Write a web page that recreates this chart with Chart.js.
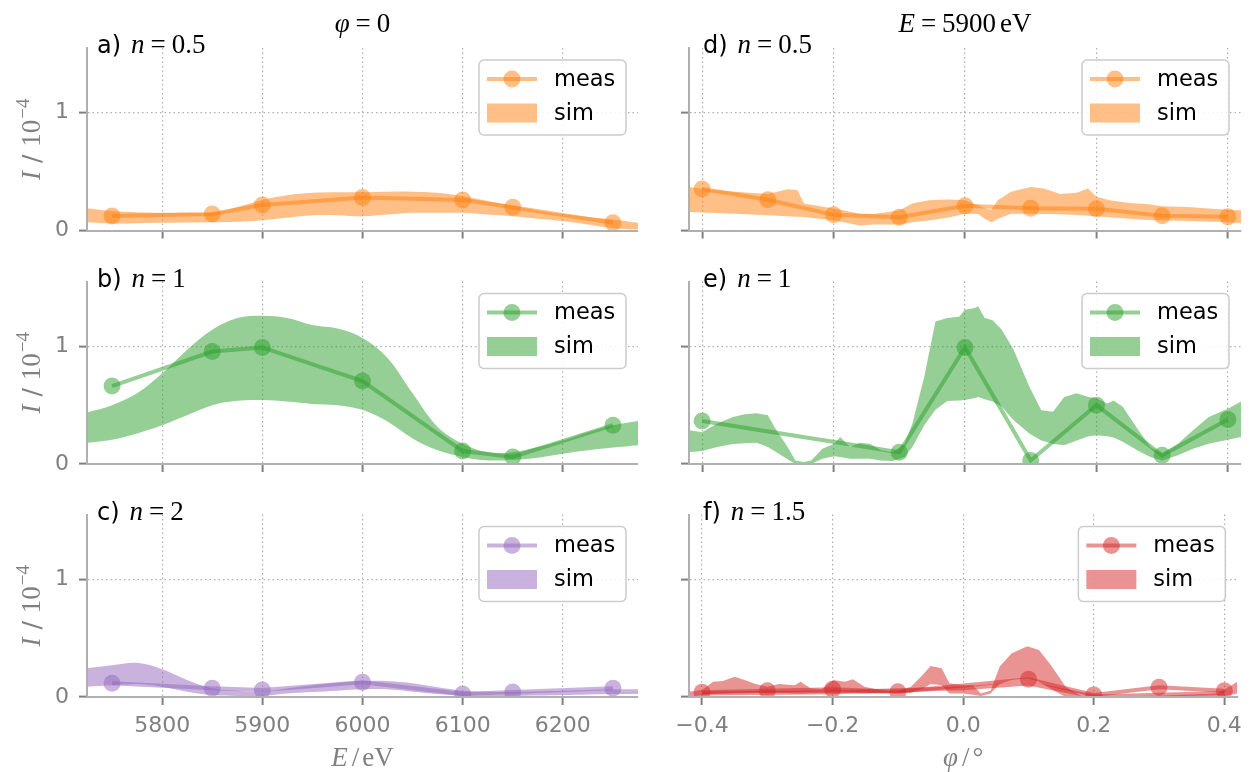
<!DOCTYPE html>
<html>
<head>
<meta charset="utf-8">
<script src="https://cdn.jsdelivr.net/npm/chart.js@4.4.1/dist/chart.umd.min.js"></script>
<style>
  body { margin: 0; background: #fff; }
  #wrap { position: relative; width: 1250px; height: 772px; }
  #wrap canvas { position: absolute; left: 0; top: 0; }
</style>
</head>
<body>
<div id="wrap"></div>
<script>
// ---- axis ticks ----
const eTicks = [5800, 5900, 6000, 6100, 6200];
const eTickLabels = ['5800', '5900', '6000', '6100', '6200'];
const phiTicks = [-0.4, -0.2, 0, 0.2, 0.4];
const phiTickLabels = ['\u22120.4', '\u22120.2', '0.0', '0.2', '0.4'];
const yTicks = [0, 1];
const yTickLabels = ['0', '1'];

// ---- left column: phi = 0, energy scan ----
const measE = [5750, 5850, 5900, 6000, 6100, 6150, 6250];
const measA = [0.123, 0.14, 0.217, 0.28, 0.26, 0.197, 0.066];
const measB = [0.662, 0.955, 0.99, 0.705, 0.11, 0.06, 0.33];
const measC = [0.116, 0.074, 0.06, 0.125, 0.026, 0.043, 0.074];

const simE = [5725, 5750, 5775, 5800, 5825, 5850, 5875, 5900, 5925, 5950, 5975, 6000,
              6025, 6050, 6075, 6100, 6125, 6150, 6175, 6200, 6225, 6250, 6275];
const simALo = [0.07, 0.06, 0.062, 0.065, 0.068, 0.07, 0.075, 0.087, 0.11, 0.13, 0.13, 0.12,
                0.135, 0.15, 0.15, 0.15, 0.135, 0.12, 0.1, 0.08, 0.05, 0.02, 0.01];
const simAHi = [0.19, 0.165, 0.155, 0.15, 0.15, 0.15, 0.2, 0.26, 0.3, 0.32, 0.325, 0.325,
                0.33, 0.33, 0.32, 0.29, 0.25, 0.21, 0.17, 0.14, 0.115, 0.094, 0.066];
const simBLo = [0.18, 0.207, 0.26, 0.33, 0.415, 0.5, 0.537, 0.543, 0.53, 0.51, 0.5, 0.46,
                0.36, 0.216, 0.116, 0.06, 0.03, 0.037, 0.054, 0.088, 0.116, 0.14, 0.16];
const simBHi = [0.437, 0.5, 0.6, 0.77, 0.97, 1.14, 1.24, 1.26, 1.24, 1.18, 1.15, 1.07,
                0.9, 0.6, 0.315, 0.173, 0.1, 0.1, 0.145, 0.2, 0.27, 0.33, 0.366];
const simCLo = [0.088, 0.1, 0.11, 0.088, 0.045, 0.017, 0.009, 0.009, 0.03, 0.043, 0.054, 0.065,
                0.065, 0.045, 0.026, 0.009, 0.005, 0.009, 0.012, 0.017, 0.022, 0.026, 0.026];
const simCHi = [0.244, 0.27, 0.29, 0.236, 0.145, 0.074, 0.054, 0.045, 0.074, 0.1, 0.122, 0.136,
                0.136, 0.116, 0.082, 0.054, 0.045, 0.043, 0.048, 0.054, 0.06, 0.065, 0.065];

// ---- right column: E = 5900 eV, angle scan ----
const measPhiD = [-0.4, -0.3, -0.2, -0.1, 0, 0.1, 0.2, 0.3, 0.4];
const measD = [0.352, 0.261, 0.133, 0.112, 0.211, 0.19, 0.185, 0.126, 0.116];
const measPhiE = [-0.4, -0.1, 0, 0.1, 0.2, 0.3, 0.4];
const measEe = [0.366, 0.1, 0.99, 0.03, 0.5, 0.074, 0.378];
const measPhiF = [-0.4, -0.3, -0.2, -0.1, 0.1, 0.2, 0.3, 0.4];
const measF = [0.04, 0.054, 0.065, 0.045, 0.15, 0.017, 0.082, 0.054];
const measPhiF2 = [-0.4, -0.2, 0, 0.1, 0.2, 0.4];
const measF2 = [0.03, 0.04, 0.075, 0.115, 0.005, 0.035];

const simPhiD = [-0.42, -0.39, -0.35, -0.3, -0.27, -0.255, -0.245, -0.2, -0.16, -0.14, -0.1, -0.08,
                 -0.055, -0.025, 0, 0.02, 0.03, 0.04, 0.05, 0.07, 0.1, 0.12, 0.145, 0.17, 0.187,
                 0.2, 0.22, 0.25, 0.28, 0.3, 0.34, 0.37, 0.4, 0.42];
const simDLo = [0.157, 0.15, 0.143, 0.129, 0.12, 0.117, 0.114, 0.086, 0.043, 0.051, 0.051, 0.071,
                0.085, 0.11, 0.143, 0.14, 0.1, 0.071, 0.1, 0.143, 0.143, 0.14, 0.137, 0.132, 0.125,
                0.12, 0.112, 0.1, 0.09, 0.086, 0.08, 0.077, 0.071, 0.063];
const simDHi = [0.37, 0.35, 0.33, 0.31, 0.35, 0.345, 0.23, 0.186, 0.143, 0.14, 0.17, 0.23,
                0.257, 0.263, 0.257, 0.214, 0.19, 0.177, 0.257, 0.33, 0.37, 0.357, 0.31, 0.32, 0.357,
                0.286, 0.257, 0.234, 0.223, 0.206, 0.2, 0.186, 0.177, 0.17];

const simPhiE = [-0.42, -0.4, -0.377, -0.353, -0.335, -0.317, -0.3, -0.29, -0.27, -0.258,
                 -0.246, -0.234, -0.217, -0.199, -0.19, -0.175, -0.16, -0.145, -0.128, -0.11,
                 -0.092, -0.08, -0.062, -0.045, -0.027, -0.009, 0, 0.015, 0.02, 0.03,
                 0.042, 0.056, 0.074, 0.098, 0.116, 0.134, 0.151, 0.17, 0.188, 0.2,
                 0.217, 0.226, 0.24, 0.264, 0.282, 0.3, 0.324, 0.347, 0.371, 0.4, 0.42];
const simELo = [0.1, 0.11, 0.145, 0.17, 0.176, 0.18, 0.145, 0.11, 0.04, 0.0,
                0.0, 0.0, 0.045, 0.065, 0.06, 0.045, 0.045, 0.045, 0.03, 0.025,
                0.06, 0.145, 0.33, 0.46, 0.535, 0.54, 0.543, 0.56, 0.57, 0.55,
                0.53, 0.486, 0.372, 0.26, 0.2, 0.173, 0.16, 0.2, 0.235, 0.244,
                0.235, 0.225, 0.19, 0.11, 0.06, 0.03, 0.074, 0.13, 0.173, 0.207, 0.23];
const simEHi = [0.287, 0.27, 0.344, 0.4, 0.423, 0.43, 0.415, 0.315, 0.145, 0.03,
                0.017, 0.03, 0.13, 0.173, 0.23, 0.145, 0.18, 0.173, 0.116, 0.1,
                0.173, 0.344, 0.74, 1.21, 1.24, 1.25, 1.31, 1.325, 1.34, 1.24,
                1.22, 1.14, 0.97, 0.656, 0.457, 0.443, 0.57, 0.6, 0.57, 0.557,
                0.514, 0.54, 0.486, 0.287, 0.145, 0.088, 0.173, 0.287, 0.4, 0.47, 0.53];

const simPhiF = [-0.42, -0.4, -0.383, -0.368, -0.35, -0.335, -0.318, -0.3, -0.282, -0.258,
                 -0.249, -0.234, -0.217, -0.199, -0.181, -0.169, -0.151, -0.128, -0.104, -0.08,
                 -0.062, -0.05, -0.033, -0.021, 0, 0.015, 0.027, 0.042, 0.056, 0.074,
                 0.098, 0.116, 0.134, 0.157, 0.181, 0.2, 0.3, 0.39, 0.42];
const simFLo = [0.0, 0.017, 0.03, 0.032, 0.035, 0.036, 0.037, 0.037, 0.035, 0.03,
                0.03, 0.032, 0.035, 0.037, 0.035, 0.033, 0.03, 0.03, 0.033, 0.037,
                0.07, 0.11, 0.1, 0.03, 0.03, 0.02, 0.009, 0.03, 0.11, 0.145,
                0.16, 0.13, 0.07, 0.0, 0.0, 0.0, 0.0, 0.0, 0.03];
const simFHi = [0.045, 0.06, 0.13, 0.136, 0.173, 0.145, 0.11, 0.088, 0.11, 0.1,
                0.13, 0.074, 0.065, 0.145, 0.13, 0.15, 0.088, 0.06, 0.045, 0.088,
                0.187, 0.264, 0.244, 0.116, 0.1, 0.1, 0.03, 0.054, 0.26, 0.37,
                0.43, 0.4, 0.273, 0.088, 0.009, 0.005, 0.01, 0.03, 0.13];

// ---- look ----
const TAB = { orange: [255, 127, 14], green: [44, 160, 44], purple: [148, 103, 189], red: [214, 39, 40] };
const rgba = (c, a) => `rgba(${c[0]},${c[1]},${c[2]},${a})`;
const SERIF = '"Liberation Serif", "DejaVu Serif", serif';
const SANS = '"DejaVu Sans", sans-serif';
const GRAY = '#808080';
const SPINE = '#b0b0b0';
const GRID = '#b0b0b0';

const colX = [[87, 638], [689, 1241]];
const rowY = [[48, 230.5], [281.5, 464], [514.5, 697]];
const AXBAND = 40;

const panels = [
  { col: 0, row: 0, tag: 'a)', n: '0.5', color: TAB.orange, mx: measE, my: measA, sx: simE, lo: simALo, hi: simAHi },
  { col: 0, row: 1, tag: 'b)', n: '1', color: TAB.green, mx: measE, my: measB, sx: simE, lo: simBLo, hi: simBHi },
  { col: 0, row: 2, tag: 'c)', n: '2', color: TAB.purple, mx: measE, my: measC, sx: simE, lo: simCLo, hi: simCHi },
  { col: 1, row: 0, tag: 'd)', n: '0.5', color: TAB.orange, mx: measPhiD, my: measD, sx: simPhiD, lo: simDLo, hi: simDHi },
  { col: 1, row: 1, tag: 'e)', n: '1', color: TAB.green, mx: measPhiE, my: measEe, sx: simPhiE, lo: simELo, hi: simEHi },
  { col: 1, row: 2, tag: 'f)', n: '1.5', color: TAB.red, mx: measPhiF, my: measF, sx: simPhiF, lo: simFLo, hi: simFHi,
    mx2: measPhiF2, my2: measF2 }
];

const pts = (xs, ys) => xs.map((x, i) => ({ x: x, y: ys[i] }));

function drawRuns(ctx, parts, x, y, align) {
  let total = 0;
  parts.forEach(p => { ctx.font = p.f; p.w = ctx.measureText(p.t).width; total += p.w + (p.gap || 0); });
  let cx = align === 'center' ? x - total / 2 : x;
  parts.forEach(p => { ctx.font = p.f; ctx.fillText(p.t, cx, y + (p.dy || 0)); cx += p.w + (p.gap || 0); });
}

function drawLegend(chart, c) {
  const a = chart.chartArea, ctx = chart.ctx;
  const w = 147, h = 75, x = a.right - 12 - w, y = a.top + 12;
  const ds = chart.data.datasets;
  ctx.save();
  ctx.beginPath();
  ctx.roundRect(x, y, w, h, 5);
  ctx.fillStyle = 'rgba(255,255,255,0.85)';
  ctx.fill();
  ctx.strokeStyle = '#cccccc';
  ctx.lineWidth = 1.5;
  ctx.stroke();
  const hx = x + 8, hw = 50, r1 = y + 19, r2 = y + 53;
  ctx.strokeStyle = rgba(c, 0.5);
  ctx.lineWidth = 4;
  ctx.beginPath(); ctx.moveTo(hx, r1); ctx.lineTo(hx + hw, r1); ctx.stroke();
  ctx.fillStyle = rgba(c, 0.5);
  ctx.beginPath(); ctx.arc(hx + hw / 2, r1, 8.5, 0, Math.PI * 2); ctx.fill();
  ctx.fillRect(hx, r2 - 9.5, hw, 19);
  ctx.fillStyle = '#000';
  ctx.font = '22.5px ' + SANS;
  ctx.textBaseline = 'middle';
  ctx.fillText(ds[0].label, x + 75, r1 + 1);
  ctx.fillText(ds[ds.length - 1].label, x + 75, r2 + 1);
  ctx.restore();
}

function drawTexts(chart, p) {
  const a = chart.chartArea, ctx = chart.ctx;
  const big = '27px ' + SERIF, ital = 'italic 27px ' + SERIF;
  ctx.save();
  ctx.textBaseline = 'alphabetic';
  // panel tag
  ctx.fillStyle = '#000';
  drawRuns(ctx, [
    { t: p.tag, f: '24px ' + SANS, gap: 10 },
    { t: 'n', f: ital, gap: 6 },
    { t: '=', f: big, gap: 6 },
    { t: p.n, f: big }
  ], p.col === 0 ? 97 : 703, a.top + 5, 'left');
  // column titles
  if (p.row === 0) {
    const cx = (a.left + a.right) / 2;
    if (p.col === 0) {
      drawRuns(ctx, [{ t: '\u03c6', f: ital, gap: 6 }, { t: '=', f: big, gap: 6 }, { t: '0', f: big }], cx, 32, 'center');
    } else {
      drawRuns(ctx, [{ t: 'E', f: ital, gap: 6 }, { t: '=', f: big, gap: 6 }, { t: '5900', f: big, gap: 4 }, { t: 'eV', f: big }], cx, 32, 'center');
    }
  }
  ctx.fillStyle = GRAY;
  // y title
  if (p.col === 0) {
    ctx.save();
    ctx.translate(40, (a.top + a.bottom) / 2);
    ctx.rotate(-Math.PI / 2);
    drawRuns(ctx, [
      { t: 'I', f: ital },
      { t: ' / ', f: '25px ' + SANS },
      { t: '10', f: big, gap: 1 },
      { t: '\u22124', f: '19px ' + SERIF, dy: -11 }
    ], 0, 0, 'center');
    ctx.restore();
  }
  // x title
  if (p.row === 2) {
    const cx = (a.left + a.right) / 2;
    if (p.col === 0) {
      drawRuns(ctx, [{ t: 'E', f: ital, gap: 4 }, { t: '/', f: big, gap: 3 }, { t: 'eV', f: big }], cx, 766, 'center');
    } else {
      drawRuns(ctx, [{ t: '\u03c6', f: ital, gap: 4 }, { t: '/', f: big, gap: 3 }, { t: '\u00b0', f: big }], cx, 766, 'center');
    }
  }
  ctx.restore();
}

const wrap = document.getElementById('wrap');

panels.forEach(p => {
  const cv = document.createElement('canvas');
  cv.width = 1250; cv.height = 772;
  wrap.appendChild(cv);
  const [L, R] = colX[p.col];
  const [T, B] = rowY[p.row];
  const left = p.col === 0;
  const c = p.color;
  const smooth = left ? 0.35 : 0;

  const datasets = [{
    label: 'meas', data: pts(p.mx, p.my),
    borderColor: rgba(c, 0.5), backgroundColor: rgba(c, 0.5), borderWidth: 4,
    pointRadius: 8.5, pointHoverRadius: 8.5, pointBorderWidth: 0, pointBackgroundColor: rgba(c, 0.5),
    tension: 0, fill: false
  }];
  if (p.mx2) {
    datasets.push({
      label: 'meas2', data: pts(p.mx2, p.my2),
      borderColor: rgba(c, 0.5), borderWidth: 4, pointRadius: 0, tension: 0, fill: false
    });
  }
  datasets.push({
    label: 'simLo', data: pts(p.sx, p.lo),
    borderColor: 'rgba(0,0,0,0)', borderWidth: 1, pointRadius: 0, tension: smooth, fill: false
  });
  datasets.push({
    label: 'sim', data: pts(p.sx, p.hi),
    borderColor: 'rgba(0,0,0,0)', borderWidth: 1, pointRadius: 0, tension: smooth,
    fill: '-1', backgroundColor: rgba(c, 0.5)
  });

  const xTickVals = left ? eTicks : phiTicks;
  const xTickText = left ? eTickLabels : phiTickLabels;

  new Chart(cv, {
    type: 'line',
    data: { datasets: datasets },
    options: {
      responsive: false,
      animation: false,
      events: [],
      layout: { padding: { left: L - AXBAND, right: 1250 - R, top: T, bottom: 772 - B - AXBAND } },
      plugins: { legend: { display: false }, tooltip: { enabled: false } },
      scales: {
        x: {
          type: 'linear',
          min: left ? 5725 : -0.42,
          max: left ? 6275 : 0.42,
          afterBuildTicks: s => { s.ticks = xTickVals.map(v => ({ value: v })); },
          afterFit: s => { s.height = AXBAND; },
          ticks: {
            display: p.row === 2, autoSkip: false, minRotation: 0, maxRotation: 0,
            color: GRAY, font: { family: 'DejaVu Sans', size: 22 }, padding: 8,
            callback: (v, i) => xTickText[i]
          },
          grid: { color: GRID, lineWidth: 1.2, tickLength: 8, tickColor: GRAY, tickWidth: 2 },
          border: { color: SPINE, width: 2, dash: [1.5, 3], z: 1 }
        },
        y: {
          type: 'linear',
          min: 0,
          max: 1.55,
          afterBuildTicks: s => { s.ticks = yTicks.map(v => ({ value: v })); },
          afterFit: s => { s.width = AXBAND; },
          ticks: {
            display: left, color: GRAY, font: { family: 'DejaVu Sans', size: 22 }, padding: 10,
            callback: (v, i) => yTickLabels[i]
          },
          grid: { color: GRID, lineWidth: 1.2, tickLength: 8, tickColor: GRAY, tickWidth: 2 },
          border: { color: SPINE, width: 2, dash: [1.5, 3], z: 1 }
        }
      }
    },
    plugins: [{
      id: 'deco',
      afterDatasetsDraw: chart => drawLegend(chart, c),
      afterDraw: chart => drawTexts(chart, p)
    }]
  });
});
</script>
</body>
</html>
